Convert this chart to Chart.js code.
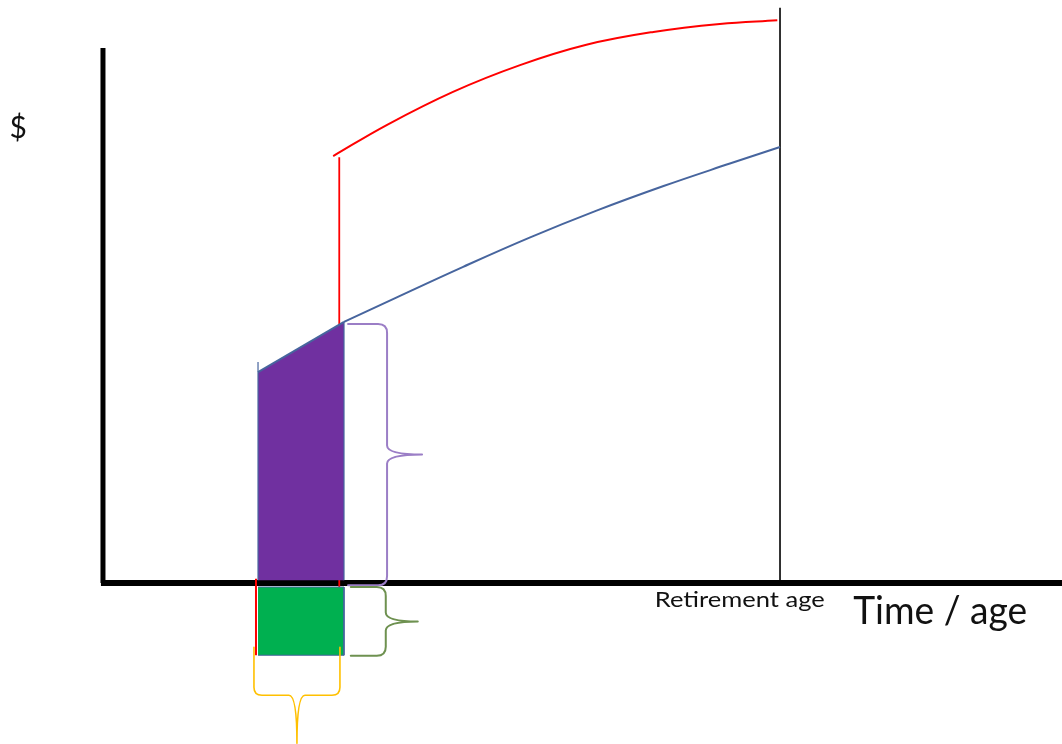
<!DOCTYPE html>
<html>
<head>
<meta charset="utf-8">
<script src="https://cdn.jsdelivr.net/npm/chart.js@4.4.1/dist/chart.umd.min.js"></script>
<style>
  html, body { margin: 0; padding: 0; background: #ffffff; }
  #wrap { width: 1062px; height: 744px; position: relative; }
</style>
</head>
<body>
<div id="wrap"><canvas id="c"></canvas></div>
<script>
// ---- Data (time/age units: 0 = start, 100 = retirement age; $ units: 0..100 axis) ----
const redAgeX   = [34.0, 41.9, 51.7, 61.6, 71.4, 81.3, 91.1, 99.6];
const redValueY = [79.8, 85.6, 91.8, 96.8, 100.6, 103.0, 104.5, 105.2];

const blueAgeX   = [35.6, 43.4, 53.2, 63.1, 72.9, 82.8, 92.6, 100.0];
const blueValueY = [48.8, 53.4, 59.1, 64.6, 69.6, 74.2, 78.4, 81.5];

const purpleAgeX   = [22.9, 35.6];
const purpleValueY = [39.4, 48.8];

const greenAgeX   = [22.9, 35.6];
const greenValueY = [-13.5, -13.5];

const redJumpX   = [34.9, 34.9];
const redJumpY   = [79.6, -1.3];
const redLeftX   = [22.6, 22.6];
const redLeftY   = [0.8, -13.5];

const retirementAge = 100;
const retirementTop = 107.5;
const axisTopY = 100;

const labels = ["$", "Retirement age", "Time / age"];

// braces: [fromX, fromY, toX, toY]
const purpleBrace = [36.2, 48.4, 36.2, -0.4];
const greenBrace  = [36.6, -0.75, 36.6, -13.6];
const yellowBrace = [35.0, -12.0, 22.3, -12.0];

function pts(xs, ys) { return xs.map((x, i) => ({ x: x, y: ys[i] })); }

const blueCol = '#47659E';

const datasets = [
  // axes
  { data: pts([0, 0], [axisTopY, 0]), borderColor: '#000', borderWidth: 5, order: 20, borderCapStyle: 'butt' },
  { data: pts([-0.3, 160], [0, 0]), borderColor: '#000', borderWidth: 6, order: 20, borderCapStyle: 'butt' },
  // retirement vertical
  { data: pts([retirementAge, retirementAge], [retirementTop, 0.5]), borderColor: '#000', borderWidth: 1.6, order: 19 },
  // red verticals
  { data: pts(redJumpX, redJumpY), borderColor: '#FF0000', borderWidth: 1.8, order: 15 },
  { data: pts(redLeftX, redLeftY), borderColor: '#FF0000', borderWidth: 2, order: 15 },
  // purple area (top edge is the first stretch of the blue line)
  { data: pts(purpleAgeX, purpleValueY), borderColor: blueCol, borderWidth: 2, backgroundColor: '#7030A0', fill: { value: 0.5 }, order: 10 },
  // green rect
  { data: pts(greenAgeX, greenValueY), borderColor: blueCol, borderWidth: 1, backgroundColor: '#00B050', fill: { value: -0.75 }, order: 10 },
  { data: pts([greenAgeX[0], greenAgeX[1], greenAgeX[1]], [-0.75, -0.75, greenValueY[1]]), borderColor: blueCol, borderWidth: 1, order: 9 },
  // purple edges
  { data: pts([purpleAgeX[0], purpleAgeX[0]], [41.3, 0.5]), borderColor: blueCol, borderWidth: 1.2, order: 8 },
  { data: pts([purpleAgeX[1], purpleAgeX[1]], [purpleValueY[1], 0.5]), borderColor: blueCol, borderWidth: 1.2, order: 8 },
  // curves
  { data: pts(blueAgeX, blueValueY), borderColor: blueCol, borderWidth: 2, tension: 0.4, order: 2 },
  { data: pts(redAgeX, redValueY), borderColor: '#FF0000', borderWidth: 2, tension: 0.4, order: 1 }
];
datasets.forEach(d => { d.showLine = true; d.pointRadius = 0; d.clip = false; if (d.fill === undefined) d.fill = false; });

function drawBrace(chart, spec, depth, tip, r, color, width) {
  const xs = chart.scales.x, ys = chart.scales.y, ctx = chart.ctx;
  const x0 = xs.getPixelForValue(spec[0]), y0 = ys.getPixelForValue(spec[1]);
  const x1 = xs.getPixelForValue(spec[2]), y1 = ys.getPixelForValue(spec[3]);
  const L = Math.hypot(x1 - x0, y1 - y0);
  const ux = (x1 - x0) / L, uy = (y1 - y0) / L;
  const vx = uy, vy = -ux;
  const P = (u, v) => [x0 + u * ux + v * vx, y0 + u * uy + v * vy];
  const m = L / 2, d = depth;
  ctx.save();
  ctx.strokeStyle = color; ctx.lineWidth = width; ctx.lineJoin = 'round'; ctx.lineCap = 'round';
  ctx.beginPath();
  let p = P(0, 0); ctx.moveTo(p[0], p[1]);
  p = P(0, d - r); ctx.lineTo(p[0], p[1]);
  let c = P(0, d); p = P(r, d); ctx.quadraticCurveTo(c[0], c[1], p[0], p[1]);
  p = P(m - r, d); ctx.lineTo(p[0], p[1]);
  c = P(m, d); p = P(m, d + tip); ctx.quadraticCurveTo(c[0], c[1], p[0], p[1]);
  c = P(m, d); p = P(m + r, d); ctx.quadraticCurveTo(c[0], c[1], p[0], p[1]);
  p = P(L - r, d); ctx.lineTo(p[0], p[1]);
  c = P(L, d); p = P(L, d - r); ctx.quadraticCurveTo(c[0], c[1], p[0], p[1]);
  p = P(L, 0); ctx.lineTo(p[0], p[1]);
  ctx.stroke();
  ctx.restore();
}

function fitText(ctx, text, x, y, font, width) {
  ctx.font = font;
  const w = ctx.measureText(text).width;
  ctx.save();
  ctx.translate(x, y);
  ctx.scale(width / w, 1);
  ctx.fillText(text, 0, 0);
  ctx.restore();
}

const annot = {
  id: 'annot',
  afterDatasetsDraw(chart) {
    drawBrace(chart, purpleBrace, 39, 35, 9, '#9B7EC6', 2);
    drawBrace(chart, greenBrace, 35, 32, 9, '#6E9150', 2);
    drawBrace(chart, yellowBrace, 48, 48, 8, '#FFC000', 1.6);
    const xs = chart.scales.x, ys = chart.scales.y, ctx = chart.ctx;
    ctx.save();
    ctx.fillStyle = '#111';
    ctx.textBaseline = 'alphabetic';
    ctx.textAlign = 'left';
    ctx.font = '30px Lato';
    ctx.fillText(labels[0], xs.getPixelForValue(-13.8), ys.getPixelForValue(83.2));
    fitText(ctx, labels[1], xs.getPixelForValue(81.5), ys.getPixelForValue(-4.49), '21px Lato', 170);
    fitText(ctx, labels[2], xs.getPixelForValue(110.8), ys.getPixelForValue(-7.66), '38px Lato', 174);
    ctx.restore();
  }
};

new Chart(document.getElementById('c'), {
  type: 'scatter',
  data: { datasets: datasets },
  options: {
    responsive: true,
    maintainAspectRatio: false,
    animation: false,
    layout: { padding: 0 },
    plugins: { legend: { display: false }, tooltip: { enabled: false } },
    events: [],
    scales: {
      x: { type: 'linear', min: -15.21, max: 141.65, display: false },
      y: { type: 'linear', min: -30.09, max: 108.97, display: false }
    }
  },
  plugins: [annot]
});
</script>
</body>
</html>
